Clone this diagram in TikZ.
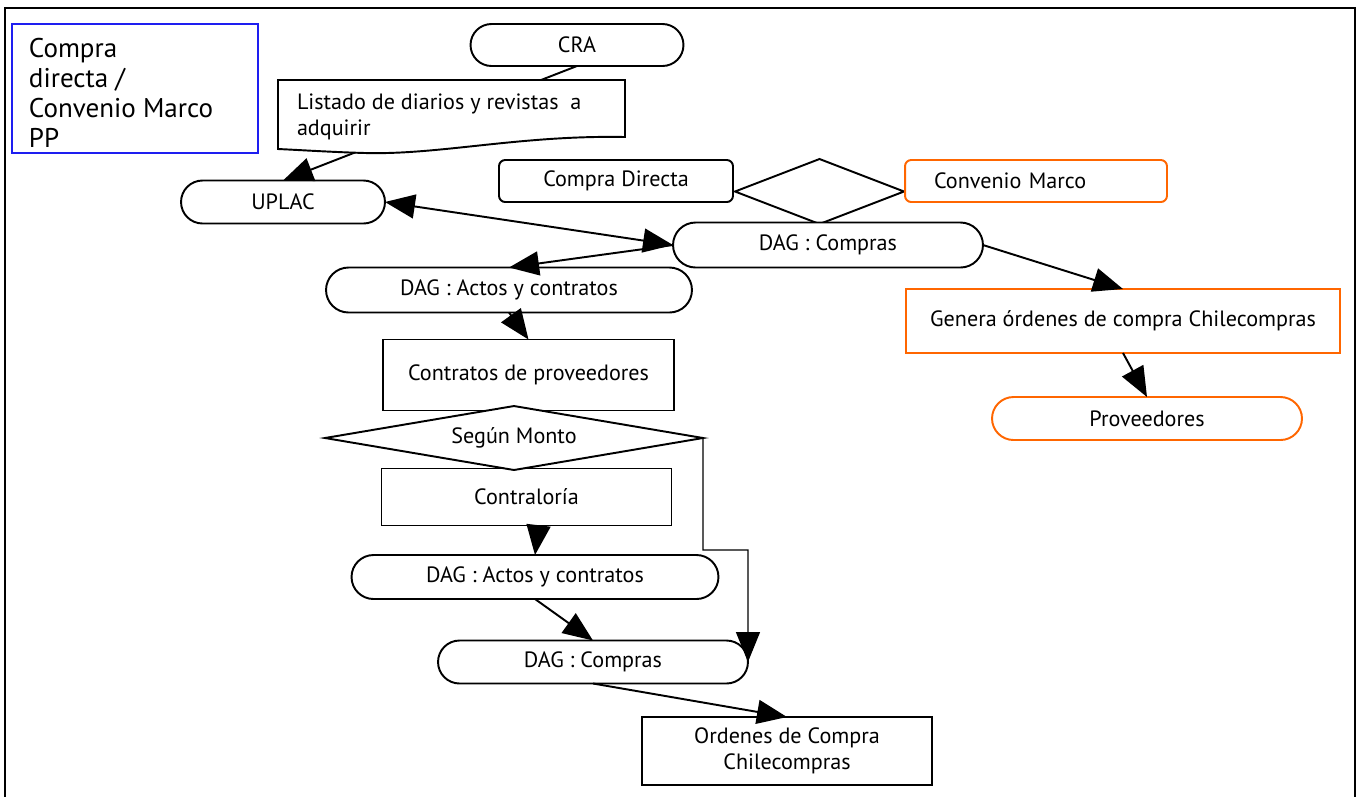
\documentclass[tikz,border=0pt]{standalone}
\usepackage{fontspec}
\setmainfont{PT Sans}
\usetikzlibrary{shapes.misc,shapes.geometric,arrows.meta}
\definecolor{orangeline}{RGB}{255,102,0}
\definecolor{titleblue}{RGB}{30,30,240}

\begin{document}
\begin{tikzpicture}[x=0.02cm,y=-0.02cm,
    every node/.style={font=\fontsize{12.6}{14.5}\selectfont, outer sep=0pt},
    pill/.style={draw, rounded rectangle, line width=1.1pt, inner sep=0pt, fill=white},
    box/.style={draw, rectangle, line width=1.1pt, inner sep=0pt, align=center, fill=white},
    roundbox/.style={box, rounded corners=3.5pt},
    choice/.style={draw, diamond, line width=1.1pt, inner sep=0pt, fill=white},
    arr/.style={-{Triangle[length=0.6cm,width=0.48cm]}, line width=1.1pt},
    twoway/.style={{Triangle[length=0.6cm,width=0.48cm]}-{Triangle[length=0.6cm,width=0.48cm]}, line width=1.1pt}]
  \useasboundingbox (0,0) rectangle (1359,796);
  % marco
  \draw[line width=0.8pt] (5,800) -- (5,8) -- (1355,8) -- (1355,800);
  % titulo
  \node[draw=titleblue, line width=1pt, minimum width=4.92cm, minimum height=2.58cm] (titlebox) at (135,88.5) {};
  \node[anchor=north west, align=left, inner sep=0pt, font=\fontsize{15.4}{17.2}\selectfont] (title) at (29,38)
    {Compra\\directa /\\Convenio Marco\\PP};
  % parte superior
  \node[pill, minimum width=4.26cm, minimum height=0.84cm] (cra) at (577,45) {CRA};
  \node[pill, minimum width=4.08cm, minimum height=0.86cm] (uplac) at (283,202) {UPLAC};
  \node[roundbox, minimum width=4.68cm, minimum height=0.84cm] (directa) at (616,181) {Compra Directa};
  \node[choice, minimum width=3.38cm, minimum height=1.3cm] (tipo) at (819.5,191.5) {};
  \node[roundbox, draw=orangeline, minimum width=5.24cm, minimum height=0.84cm,
        inner xsep=0.58cm, text width=4.08cm, align=left] (convenio) at (1036,181) {Convenio Marco};
  \node[pill, minimum width=6.2cm, minimum height=0.9cm] (compras) at (828,245) {DAG : Compras};
  % rama convenio marco
  \node[box, draw=orangeline, minimum width=8.68cm, minimum height=1.28cm] (genera) at (1123,321)
    {Genera órdenes de compra Chilecompras};
  \node[pill, draw=orangeline, minimum width=6.2cm, minimum height=0.86cm] (proveedores) at (1147,418.5) {Proveedores};
  % rama compra directa
  \node[pill, minimum width=7.32cm, minimum height=0.9cm] (actos) at (509,290) {DAG : Actos y contratos};
  \node[box, minimum width=5.82cm, minimum height=1.42cm] (contratos) at (528.5,375) {Contratos de proveedores};
  \node[box, minimum width=5.8cm, minimum height=1.14cm] (contraloria) at (526.5,497) {Contraloría};
  \node[choice, aspect=5.9, minimum width=7.56cm, minimum height=1.28cm] (monto) at (514,438) {Según Monto};
  \node[pill, minimum width=7.34cm, minimum height=0.88cm] (actosb) at (535,577) {DAG : Actos y contratos};
  \node[pill, minimum width=6.2cm, minimum height=0.86cm] (comprasb) at (593,662) {DAG : Compras};
  \node[box, minimum width=5.8cm, minimum height=1.36cm] (ordenes) at (787,751) {Ordenes de Compra\\Chilecompras};
  \coordinate (codo) at (748,550);

  % conectores
  \draw[arr] (cra.south) -- (uplac.north);
  \draw[twoway] (uplac.east) -- (compras.west);
  \draw[arr] (compras.west) -- (actos.north);
  \draw[arr] (compras.east) -- (genera.north);
  \draw[arr] (genera.south) -- (proveedores.north);
  \draw[arr] (actos.south) -- (contratos.north);
  \draw[arr] ([xshift=0.24cm]contraloria.south) -- (actosb.north);
  \draw[arr] (actosb.south) -- (comprasb.north);
  \draw[arr, line width=0.8pt] (monto.east) |- (codo) -- (comprasb.east);
  \draw[arr] (comprasb.south) -- (ordenes.north);

  % documento (tapa la linea CRA - UPLAC)
  \draw[line width=1.1pt, fill=white] (278,80) -- (625,80) -- (625,137)
    .. controls (520,135) and (440,155) .. (365,153)
    .. controls (330,152) and (300,150) .. (278,149) -- cycle;
  \node[anchor=north west, align=left, inner sep=0pt] (listado) at (297,94)
    {Listado de diarios y revistas\ \ a\\adquirir};
\end{tikzpicture}
\end{document}
